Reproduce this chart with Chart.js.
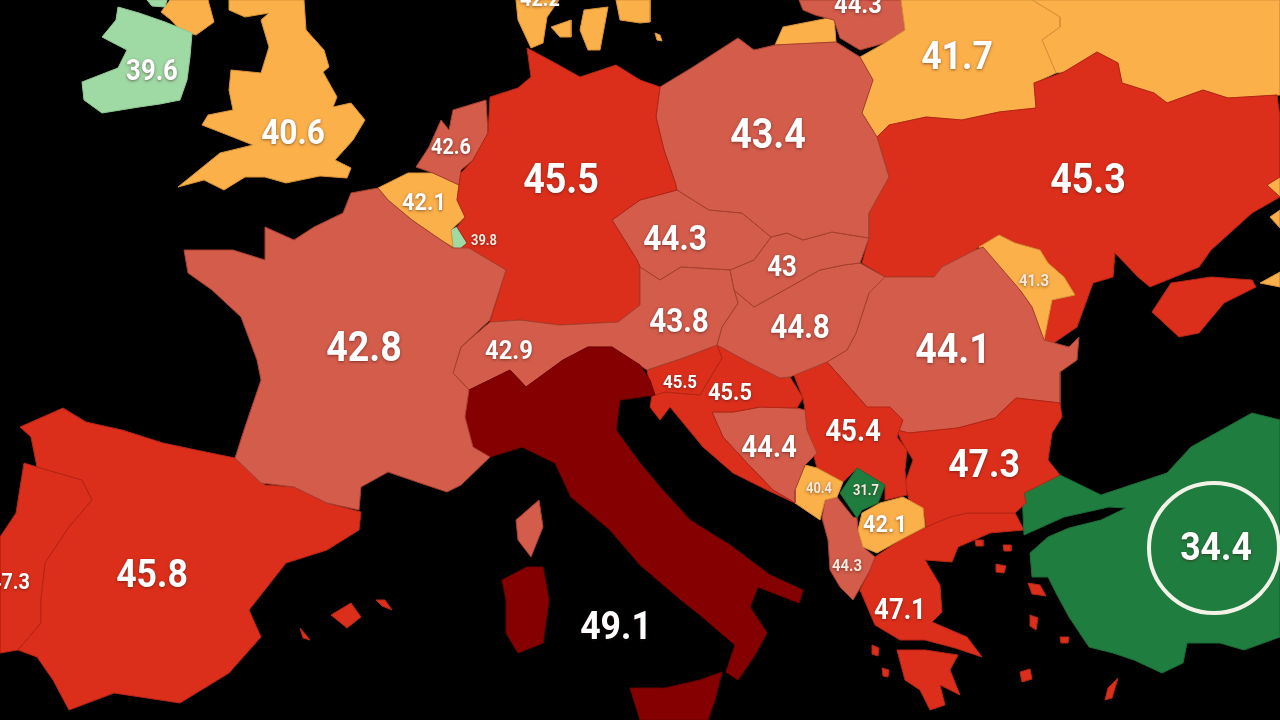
<!DOCTYPE html>
<html>
<head>
<meta charset="utf-8">
<title>Europe map</title>
<script src="https://cdn.jsdelivr.net/npm/chart.js@4"></script>
<style>
  html, body { margin: 0; padding: 0; background: #000; overflow: hidden; }
  canvas { display: block; filter: blur(0.6px); }
</style>
</head>
<body>
<canvas id="map" width="1280" height="720"></canvas>
<script>
// Outlines (x, y on a 1280x720 map grid)
const ireland = [[118,7],[139,13],[165,22],[192,33],[190,57],[187,80],[180,100],[160,104],[139,107],[102,113],[84,100],[82,82],[100,75],[118,68],[127,50],[102,37],[116,20]];
const ireland2 = [[147,0],[167,0],[165,7],[152,6]];
const ulster = [[161,12],[170,0],[208,0],[214,22],[196,35],[180,30],[171,20]];
const britain = [[229,0],[304,0],[306,30],[324,50],[329,67],[323,72],[337,97],[333,107],[351,103],[365,120],[353,140],[335,160],[351,168],[347,178],[320,176],[286,183],[265,177],[245,177],[224,190],[204,180],[178,187],[220,153],[253,145],[220,132],[202,125],[208,115],[233,110],[229,90],[231,70],[261,73],[269,47],[261,20],[269,13],[245,17],[229,10]];
const france = [[351,193],[378,188],[388,200],[412,220],[441,240],[453,248],[469,248],[506,270],[490,320],[461,347],[453,373],[469,390],[465,417],[473,447],[490,457],[461,485],[447,492],[420,483],[388,472],[361,487],[359,510],[327,503],[294,487],[261,483],[235,458],[245,427],[261,380],[257,360],[241,317],[212,290],[188,273],[184,250],[233,250],[265,260],[265,227],[294,240],[314,227],[343,213]];
const corsica = [[539,500],[543,527],[531,557],[518,540],[516,520]];
const spain = [[63,408],[86,422],[122,430],[163,443],[196,450],[235,458],[265,485],[294,487],[327,503],[361,512],[359,530],[327,550],[286,563],[249,610],[261,637],[229,673],[180,703],[114,693],[69,710],[53,680],[37,657],[18,650],[41,623],[41,600],[45,563],[69,527],[92,500],[82,480],[37,467],[31,437],[20,427]];
const mallorca = [[331,615],[351,603],[361,617],[347,628]];
const menorca = [[376,600],[385,600],[392,610],[382,606]];
const ibiza = [[300,628],[306,635],[310,640],[303,638]];
const portugal = [[37,467],[24,463],[16,513],[0,537],[0,653],[18,650],[41,623],[41,600],[45,563],[69,527],[92,500],[82,480]];
const italy = [[469,390],[510,370],[526,387],[563,360],[588,347],[612,347],[640,365],[650,380],[655,395],[620,400],[616,430],[640,463],[660,487],[690,520],[730,545],[770,575],[803,590],[799,603],[758,587],[750,607],[767,633],[755,655],[738,680],[726,672],[735,645],[700,615],[681,600],[640,565],[610,530],[571,497],[555,463],[522,447],[490,457],[473,447],[465,417]];
const sardinia = [[527,567],[543,567],[549,600],[543,643],[518,653],[506,633],[506,600],[502,580]];
const sicily = [[630,688],[665,688],[700,680],[722,672],[715,700],[708,720],[640,720]];
const austria = [[461,347],[490,322],[520,320],[560,325],[618,322],[640,305],[640,267],[660,280],[681,267],[730,270],[734,290],[738,303],[722,327],[717,345],[683,358],[647,370],[612,347],[588,347],[563,360],[526,387],[510,370],[469,390],[453,373]];
const germany = [[527,48],[555,63],[580,77],[616,65],[640,80],[660,87],[656,117],[664,150],[675,182],[677,190],[640,200],[612,220],[637,260],[640,267],[640,305],[618,322],[560,325],[520,320],[490,322],[506,270],[469,248],[459,250],[467,243],[457,227],[465,217],[457,200],[459,185],[461,173],[473,160],[488,133],[490,97],[518,88],[531,77]];
const netherlands = [[453,110],[486,100],[488,133],[473,160],[461,170],[459,185],[433,173],[416,167],[429,147],[441,120],[449,130]];
const belgium = [[378,188],[408,173],[433,173],[459,185],[457,200],[465,217],[451,230],[453,247],[441,240],[412,220],[388,200]];
const luxembourg = [[451,230],[457,227],[467,243],[459,250],[453,247]];
const denmark = [[516,0],[559,0],[547,17],[543,43],[531,48],[518,20]];
const funen = [[551,27],[571,20],[571,37],[560,37]];
const zealand = [[584,10],[608,7],[600,50],[588,50],[580,30]];
const bornholm = [[655,33],[660,35],[662,41],[657,40]];
const sweden = [[616,0],[650,0],[650,22],[640,23],[620,20]];
const poland = [[660,87],[693,67],[738,38],[754,50],[775,45],[836,42],[860,57],[873,80],[862,113],[877,137],[889,177],[869,213],[869,238],[832,232],[803,240],[787,233],[771,237],[742,213],[709,210],[677,190],[675,182],[664,150],[656,117]];
const czechia = [[640,200],[677,190],[709,210],[742,213],[771,237],[754,260],[730,270],[681,267],[660,280],[640,267],[637,260],[612,220]];
const slovakia = [[771,237],[787,233],[803,240],[832,232],[869,238],[860,263],[844,265],[820,270],[779,293],[754,307],[734,290],[730,270],[754,260]];
const hungary = [[734,290],[754,307],[779,293],[820,270],[844,265],[860,263],[885,277],[869,293],[856,333],[847,350],[827,362],[790,377],[780,378],[750,363],[717,345],[722,327],[738,303]];
const slovenia = [[647,370],[683,358],[717,345],[722,358],[700,395],[665,392],[652,396]];
const croatia = [[717,345],[750,363],[780,378],[790,377],[803,398],[797,408],[760,407],[733,412],[712,412],[723,437],[747,463],[773,490],[795,503],[767,490],[733,473],[703,447],[670,407],[660,420],[650,407],[652,396],[665,392],[700,395],[722,358]];
const bosnia = [[712,412],[733,412],[760,407],[797,408],[805,410],[807,430],[817,453],[805,465],[795,490],[795,503],[773,490],[747,463],[723,437]];
const montenegro = [[805,465],[817,468],[843,482],[837,497],[825,500],[820,520],[795,503],[795,490]];
const kosovo = [[857,468],[885,485],[878,503],[862,510],[857,518],[840,493]];
const macedonia = [[862,513],[880,503],[903,497],[923,508],[925,527],[900,540],[877,553],[863,547],[858,530]];
const albania = [[825,500],[837,497],[853,517],[857,518],[858,530],[863,547],[875,557],[870,570],[860,588],[853,600],[840,587],[830,570],[828,540],[822,518]];
const serbia = [[793,373],[827,362],[843,380],[867,407],[890,407],[903,420],[897,437],[907,450],[905,470],[907,495],[885,500],[885,485],[857,468],[843,482],[817,468],[807,430],[805,410],[803,398]];
const bulgaria = [[897,430],[909,433],[958,428],[995,418],[1016,398],[1060,403],[1062,417],[1052,433],[1048,460],[1060,475],[1024,493],[1026,503],[1015,513],[967,513],[950,517],[926,527],[924,513],[909,500],[905,483],[913,460],[901,440]];
const romania = [[885,277],[934,277],[942,267],[975,250],[983,247],[1020,290],[1032,307],[1044,340],[1069,347],[1079,337],[1077,360],[1060,372],[1060,403],[1016,398],[995,418],[958,428],[909,433],[897,430],[867,407],[843,380],[827,362],[847,350],[856,333],[869,293]];
const moldova = [[979,247],[999,235],[1015,243],[1040,250],[1048,263],[1064,277],[1075,295],[1052,300],[1048,320],[1044,340],[1032,307],[1020,290]];
const ukraine = [[877,137],[889,125],[926,117],[962,120],[999,112],[1036,108],[1034,83],[1064,72],[1097,52],[1118,63],[1122,83],[1154,93],[1167,103],[1203,90],[1228,98],[1277,95],[1280,117],[1280,177],[1267,185],[1280,197],[1252,213],[1211,250],[1199,267],[1150,287],[1138,277],[1115,253],[1113,277],[1093,283],[1077,327],[1048,347],[1044,340],[1048,320],[1052,300],[1075,295],[1064,277],[1048,263],[1040,250],[1015,243],[999,235],[979,247],[940,277],[885,277],[862,263],[869,238],[869,213],[889,177]];
const crimea = [[1171,283],[1211,277],[1252,280],[1256,287],[1224,303],[1199,333],[1179,337],[1152,312]];
const belarus = [[901,0],[1032,0],[1060,17],[1060,27],[1042,40],[1056,73],[1034,83],[1036,108],[999,112],[962,120],[926,117],[889,125],[877,137],[862,113],[873,80],[860,57],[885,43],[905,30]];
const lithuania = [[799,0],[901,0],[905,30],[885,43],[860,50],[840,38],[834,20],[815,15],[803,10]];
const kaliningrad = [[775,45],[783,27],[834,17],[836,42]];
const russia = [[1032,0],[1280,0],[1280,95],[1228,98],[1203,90],[1167,103],[1154,93],[1122,83],[1118,63],[1097,52],[1064,72],[1056,73],[1042,40],[1060,27],[1060,17]];
const kuban = [[1266,185],[1280,165],[1280,197]];
const azovIsle = [[1270,217],[1280,210],[1280,228]];
const tamanCoast = [[1260,283],[1280,272],[1280,287]];
const turkey = [[1060,475],[1101,495],[1167,473],[1191,447],[1252,413],[1280,420],[1280,637],[1244,650],[1220,643],[1187,643],[1183,663],[1162,673],[1134,660],[1113,653],[1089,647],[1069,617],[1056,593],[1048,577],[1032,577],[1030,553],[1048,537],[1069,528],[1101,520],[1126,508],[1109,507],[1064,517],[1024,535],[1022,493]];
const greece = [[926,527],[950,517],[967,513],[1015,513],[1024,530],[990,533],[958,547],[952,562],[925,560],[940,585],[942,612],[932,622],[967,637],[982,657],[955,648],[925,640],[900,640],[875,625],[860,590],[870,570],[875,557],[900,540]];
const peloponnese = [[897,650],[925,650],[958,655],[950,670],[960,695],[940,685],[945,705],[930,710],[920,690],[905,680]];
const lesbos = [[1028,583],[1040,585],[1046,596],[1032,594]];
const chios = [[1030,615],[1038,618],[1036,630],[1030,626]];
const thasos = [[996,564],[1006,566],[1004,573],[996,572]];
const rhodes = [[1118,678],[1112,698],[1105,700],[1108,688]];
const naxos = [[1020,672],[1030,669],[1032,679],[1022,682]];
const samothrace = [[975,540],[983,540],[983,546],[976,546]];
const lemnos = [[1003,545],[1011,545],[1011,551],[1004,551]];
const samos = [[1060,637],[1069,637],[1068,643],[1061,643]];
const kefalonia = [[872,645],[879,648],[878,656],[872,654]];
const zakynthos = [[882,668],[889,670],[888,677],[883,676]];

const countryNames  = ['Ireland', 'United Kingdom', 'France', 'Spain', 'Portugal', 'Italy', 'Switzerland/Austria', 'Germany', 'Netherlands', 'Belgium', 'Luxembourg', 'Denmark', 'Sweden', 'Poland', 'Czechia', 'Slovakia', 'Hungary', 'Slovenia', 'Croatia', 'Bosnia', 'Montenegro', 'Kosovo', 'North Macedonia', 'Albania', 'Serbia', 'Bulgaria', 'Romania', 'Moldova', 'Ukraine', 'Belarus', 'Lithuania', 'Russia', 'Turkey', 'Greece'];
const countryValues = [39.6, 40.6, 42.8, 45.8, 47.3, 49.1, 42.9, 45.5, 42.6, 42.1, 39.8, 42.2, 41.5, 43.4, 44.3, 43, 44.8, 45.5, 45.5, 44.4, 40.4, 31.7, 42.1, 44.3, 45.4, 47.3, 44.1, 41.3, 45.3, 41.7, 44.3, 41, 34.4, 47.1];
const countryShapes = [[ireland, ireland2], [britain, ulster], [france, corsica], [spain, mallorca, menorca, ibiza], [portugal], [italy, sardinia, sicily], [austria], [germany], [netherlands], [belgium], [luxembourg], [denmark, funen, zealand, bornholm], [sweden], [poland], [czechia], [slovakia], [hungary], [slovenia], [croatia], [bosnia], [montenegro], [kosovo], [macedonia], [albania], [serbia], [bulgaria], [romania], [moldova], [ukraine, crimea], [belarus], [lithuania], [russia, kaliningrad, kuban, azovIsle, tamanCoast], [turkey], [greece, peloponnese, lesbos, chios, thasos, rhodes, naxos, samothrace, lemnos, samos, kefalonia, zakynthos]];

// Printed numbers on the map
const labelValues  = ['45.5', '45.3', '43.4', '41.7', '42.8', '44.1', '45.8', '49.1', '47.3', '34.4', '39.6', '40.6', '42.6', '42.1', '39.8', '44.3', '43', '43.8', '44.8', '42.9', '45.5', '45.5', '44.4', '45.4', '40.4', '31.7', '42.1', '44.3', '47.1', '47.3', '41.3', '44.3', '42.2'];
const labelAnchors = [[561,178],[1088,178],[768,133],[957,55],[364,346],[953,348],[152,573],[616,625],[984,463],[1216,546],[152,70],[293,131],[451,146],[424,201],[484,240],[675,237],[782,266],[679,320],[800,326],[509,349],[680,381],[730,391],[769,446],[853,430],[819,488],[866,490],[885,523],[847,565],[900,609],[10,581],[1034,280],[858,3],[540,-2]];
const labelSizes   = [38, 38, 38, 36, 38, 38, 36, 36, 36, 36, 26, 32, 20, 22, 13, 32, 26, 30, 30, 24, 17, 22, 28, 28, 13, 13, 22, 15, 26, 20, 15, 24, 20];

const ringCentre = [1214, 548];
const ringRadius = 65;

// Legend bins of the original map
function binColor(v) {
  if (v < 38)   return '#1f7d3f';
  if (v < 40)   return '#9fd9a4';
  if (v < 42.5) return '#fbb04a';
  if (v < 45)   return '#d35c4b';
  if (v < 48)   return '#dc2f1b';
  return '#850000';
}
function binEdge(v) {
  if (v < 38)   return '#1a6c36';
  if (v < 40)   return '#8fca95';
  if (v < 42.5) return '#d99237';
  if (v < 45)   return '#a8402f';
  if (v < 48)   return '#b52514';
  return '#6f0000';
}

const toPoints = (list) => list.map(p => ({ x: p[0], y: p[1] }));

const datasets = [];
// Labels come first so they stay on top
datasets.push({
  label: 'labels',
  data: toPoints(labelAnchors),
  showLine: false,
  pointRadius: 0,
  clip: false
});
countryNames.forEach((name, i) => {
  countryShapes[i].forEach(shape => {
    datasets.push({
      label: name,
      data: toPoints(shape.concat([shape[0]])),
      showLine: true,
      fill: 'shape',
      tension: 0,
      pointRadius: 0,
      borderWidth: 1,
      borderColor: binEdge(countryValues[i]),
      backgroundColor: binColor(countryValues[i])
    });
  });
});

const valueText = {
  id: 'valueText',
  afterDatasetsDraw(chart) {
    const ctx = chart.ctx;
    const pts = chart.getDatasetMeta(0).data;
    ctx.save();
    // ring around Turkey
    ctx.strokeStyle = '#f2f3e6';
    ctx.lineWidth = 4;
    ctx.beginPath();
    ctx.arc(chart.scales.x.getPixelForValue(ringCentre[0]), chart.scales.y.getPixelForValue(ringCentre[1]), ringRadius, 0, Math.PI * 2);
    ctx.stroke();

    ctx.textAlign = 'center';
    ctx.textBaseline = 'alphabetic';
    pts.forEach((pt, i) => {
      const size = labelSizes[i] * 1.1;
      ctx.save();
      // original type is narrower than Roboto, so squeeze it a bit
      ctx.translate(pt.x, pt.y + size * 0.36);
      ctx.scale(0.9, 1);
      ctx.font = `bold ${size}px Roboto, "Open Sans", sans-serif`;
      ctx.fillStyle = labelSizes[i] < 16 ? '#f4e9dc' : '#ffffff';
      ctx.shadowColor = 'rgba(60,20,20,0.55)';
      ctx.shadowBlur = 3;
      ctx.shadowOffsetY = 1;
      ctx.fillText(labelValues[i], 0, 0);
      ctx.restore();
    });
    ctx.restore();
  }
};

new Chart(document.getElementById('map'), {
  type: 'scatter',
  data: { datasets },
  plugins: [valueText],
  options: {
    responsive: false,
    animation: false,
    layout: { padding: 0 },
    scales: {
      x: { type: 'linear', min: 0, max: 1280, display: false },
      y: { type: 'linear', min: 0, max: 720, reverse: true, display: false }
    },
    plugins: { legend: { display: false }, tooltip: { enabled: false } }
  }
});
</script>
</body>
</html>
